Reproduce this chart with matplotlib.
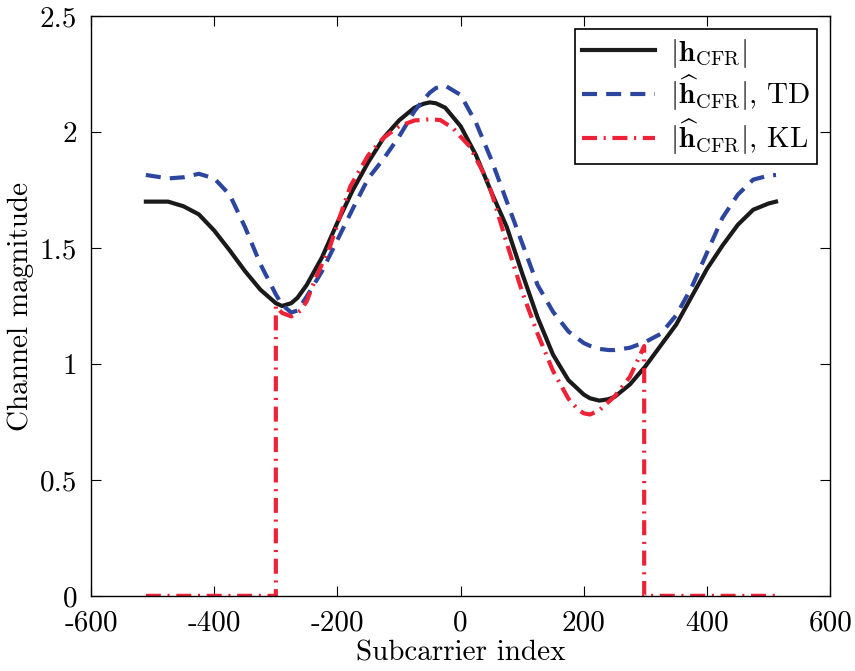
import matplotlib
matplotlib.use("Agg")
import matplotlib.pyplot as plt

# subcarrier grid for true channel and TD estimate
sc = [-511, -475, -450, -425, -400, -375, -350, -325, -300, -290, -275, -265,
      -250, -225, -200, -175, -150, -125, -100, -75, -60, -50, -40, -25, 0,
      25, 50, 75, 100, 125, 150, 175, 200, 210, 225, 240, 250, 275, 300, 325,
      350, 375, 400, 425, 450, 475, 500, 512]

h_true = [1.70, 1.70, 1.68, 1.645, 1.575, 1.49, 1.40, 1.32, 1.262, 1.25, 1.262,
          1.285, 1.34, 1.46, 1.61, 1.75, 1.87, 1.975, 2.05, 2.105, 2.122,
          2.128, 2.124, 2.105, 2.025, 1.90, 1.74, 1.59, 1.39, 1.20, 1.04, 0.93,
          0.868, 0.852, 0.842, 0.848, 0.858, 0.912, 0.99, 1.08, 1.17, 1.29,
          1.41, 1.51, 1.60, 1.665, 1.692, 1.70]

h_td = [1.815, 1.80, 1.805, 1.82, 1.80, 1.73, 1.59, 1.43, 1.30, 1.255, 1.222,
        1.23, 1.29, 1.40, 1.535, 1.67, 1.80, 1.885, 1.98, 2.09, 2.14, 2.17,
        2.19, 2.20, 2.16, 2.04, 1.88, 1.70, 1.52, 1.34, 1.225, 1.14, 1.09,
        1.078, 1.065, 1.06, 1.06, 1.07, 1.095, 1.13, 1.21, 1.33, 1.48, 1.63,
        1.73, 1.795, 1.812, 1.815]

# KL estimate: zero outside the +-300 band
sc_kl = [-511, -400, -300, -300, -290, -275, -260, -250, -234, -212, -196,
         -179, -150, -125, -100, -75, -50, -33, -12, 0, 15, 43, 50, 75, 100,
         125, 150, 175, 190, 200, 210, 225, 250, 275, 298, 298, 400, 512]
h_kl = [0, 0, 0, 1.25, 1.22, 1.205, 1.23, 1.27, 1.378, 1.507, 1.636, 1.766,
        1.90, 1.975, 2.025, 2.05, 2.055, 2.052, 2.016, 1.98, 1.937, 1.794,
        1.74, 1.52, 1.31, 1.13, 0.97, 0.85, 0.805, 0.787, 0.782, 0.80, 0.86,
        0.945, 1.077, 0, 0, 0]

plt.rcParams['font.family'] = 'cmr10'
plt.rcParams['mathtext.fontset'] = 'cm'
plt.rcParams['axes.unicode_minus'] = False
plt.rcParams['axes.formatter.use_mathtext'] = True
plt.rcParams['font.size'] = 21

fig = plt.figure(figsize=(8.55, 6.71), dpi=100)
ax = fig.add_axes([0.1065, 0.112, 0.8645, 0.864])

ax.plot(sc, h_true, color='#1a1a1a', lw=3.0,
        label=r'$|\mathbf{h}_{\mathrm{CFR}}|$')
ax.plot(sc, h_td, color='#2c46a0', lw=3.0, dashes=(3.6, 2.2),
        label=r'$|\widehat{\mathbf{h}}_{\mathrm{CFR}}|$, TD')
ax.plot(sc_kl, h_kl, color='#ed2236', lw=3.0, dashes=(3.6, 1.6, 0.5, 1.6),
        label=r'$|\widehat{\mathbf{h}}_{\mathrm{CFR}}|$, KL')

ax.set_xlim(-600, 600)
ax.set_ylim(0, 2.5)
ax.set_xticks([-600, -400, -200, 0, 200, 400, 600])
ax.set_xticklabels(['-600', '-400', '-200', '0', '200', '400', '600'])
ax.set_yticks([0, 0.5, 1, 1.5, 2, 2.5])
ax.set_yticklabels(['0', '0.5', '1', '1.5', '2', '2.5'])
ax.tick_params(direction='in', length=7, width=0.8, top=True, right=True,
               labelsize=21)
ax.tick_params(axis='x', pad=10)
ax.tick_params(axis='y', pad=10)
for s in ax.spines.values():
    s.set_linewidth(1.0)

ax.set_xlabel('Subcarrier index', labelpad=3)
ax.set_ylabel('Channel magnitude', labelpad=4)

leg = ax.legend(loc='upper right', fancybox=False, framealpha=1,
                edgecolor='black', handlelength=2.5, borderaxespad=0.45,
                labelspacing=0.12, borderpad=0.25, handletextpad=0.5)
leg.get_frame().set_linewidth(1.2)

plt.savefig('out.png', dpi=100)
